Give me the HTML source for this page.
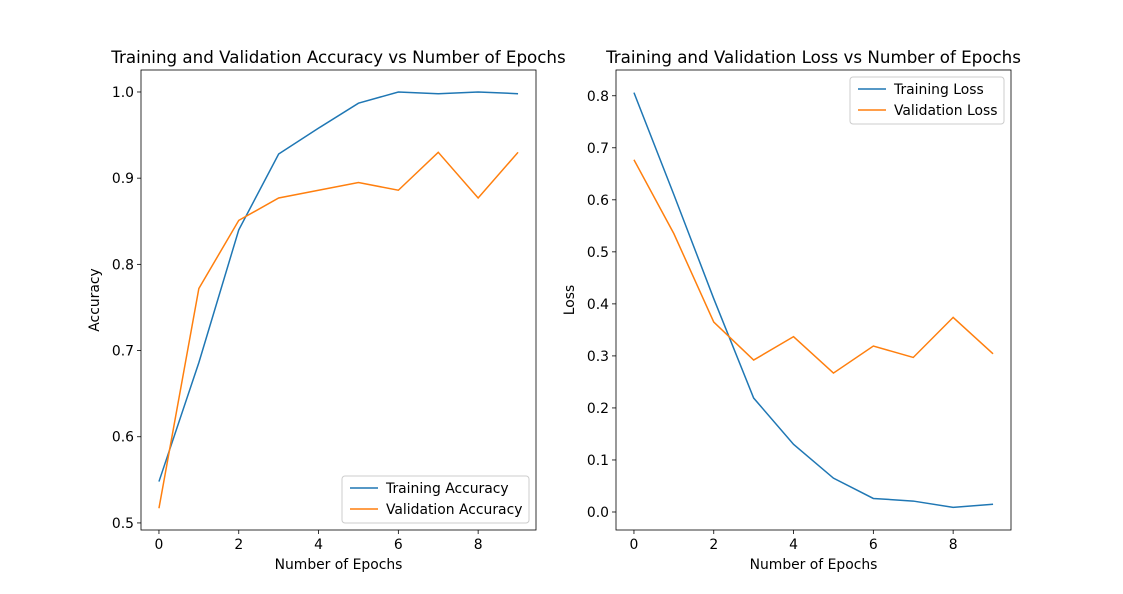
<!DOCTYPE html>
<html><head><meta charset="utf-8"><style>
body{margin:0;background:#fff;}
svg{display:block;font-family:"DejaVu Sans","Liberation Sans",sans-serif;}
</style></head><body>
<svg id="fig" width="1123" height="594"></svg>
<script>
const epochs=[0,1,2,3,4,5,6,7,8,9];
const trainAcc=[0.548,0.686,0.840,0.928,0.958,0.987,1.0,0.998,1.0,0.998];
const valAcc=[0.517,0.772,0.851,0.877,0.886,0.895,0.886,0.930,0.877,0.930];
const trainLoss=[0.806,0.610,0.410,0.219,0.130,0.065,0.026,0.021,0.009,0.015];
const valLoss=[0.677,0.535,0.365,0.292,0.337,0.267,0.319,0.297,0.374,0.304];
const xTicks=[0,2,4,6,8];
const accTicks=[0.5,0.6,0.7,0.8,0.9,1.0];
const lossTicks=[0.0,0.1,0.2,0.3,0.4,0.5,0.6,0.7,0.8];
const NS="http://www.w3.org/2000/svg";
const svg=document.getElementById('fig');
const FS=13.9;
function el(t,a,p){const e=document.createElementNS(NS,t);for(const k in a)e.setAttribute(k,a[k]);(p||svg).appendChild(e);return e;}
function panel(name,L,T,W,H,x0,x1,y0,y1,series,ticksY,dec,title,ylab,legend){
 const g=el('g',{});
 
 
 const sx=v=>L+(v-x0)/(x1-x0)*W, sy=v=>T+H-(v-y0)/(y1-y0)*H;
 xTicks.forEach(v=>{const X=sx(v);
  el('line',{x1:X,x2:X,y1:T+H,y2:T+H+4,stroke:'#000','stroke-width':0.8},g);
  const t=el('text',{x:X,y:T+H+19,'font-size':FS,'text-anchor':'middle'},g);t.textContent=v;
  });
 ticksY.forEach(v=>{const Y=sy(v);
  el('line',{x1:L-4,x2:L,y1:Y,y2:Y,stroke:'#000','stroke-width':0.8},g);
  const t=el('text',{x:L-7,y:Y+5,'font-size':FS,'text-anchor':'end'},g);t.textContent=v.toFixed(1);
  });
 series.forEach(s=>{
  const p=el('polyline',{points:epochs.map((e,i)=>sx(e)+','+sy(s.d[i])).join(' '),fill:'none',stroke:s.c,'stroke-width':1.5},g);
  });
 el('rect',{x:L,y:T,width:W,height:H,fill:'none',stroke:'#000','stroke-width':0.8},g);
 let t=el('text',{x:L+W/2,y:T-7,'font-size':16.7,'text-anchor':'middle'},g);t.textContent=title;
 
 t=el('text',{x:L+W/2,y:T+H+39,'font-size':FS,'text-anchor':'middle'},g);t.textContent='Number of Epochs';
 
 t=el('text',{x:0,y:0,'font-size':FS,'text-anchor':'middle',transform:`translate(${L-42},${T+H/2}) rotate(-90)`},g);t.textContent=ylab;
 
 const lg=el('g',{},g);
 el('rect',{x:legend.x,y:legend.y,width:legend.w,height:47,rx:3,fill:'#fff',stroke:'#ccc'},lg);
 series.forEach((s,i)=>{const Y=legend.y+12+i*21;
  el('line',{x1:legend.x+8,x2:legend.x+36,y1:Y,y2:Y,stroke:s.c,'stroke-width':1.5},lg);
  const tt=el('text',{x:legend.x+44,y:Y+5,'font-size':FS},lg);tt.textContent=s.l;
  });
}
panel('accuracy-panel',141,70,395,460,-0.45,9.45,0.4918,1.0255,
 [{d:trainAcc,c:'#1f77b4',n:'training-accuracy-line',l:'Training Accuracy'},{d:valAcc,c:'#ff7f0e',n:'validation-accuracy-line',l:'Validation Accuracy'}],
 accTicks,1,'Training and Validation Accuracy vs Number of Epochs','Accuracy',{x:342,y:476,w:187});
panel('loss-panel',616,70,395,460,-0.45,9.45,-0.0346,0.8495,
 [{d:trainLoss,c:'#1f77b4',n:'training-loss-line',l:'Training Loss'},{d:valLoss,c:'#ff7f0e',n:'validation-loss-line',l:'Validation Loss'}],
 lossTicks,1,'Training and Validation Loss vs Number of Epochs','Loss',{x:850,y:77,w:154});
</script>
</body></html>
